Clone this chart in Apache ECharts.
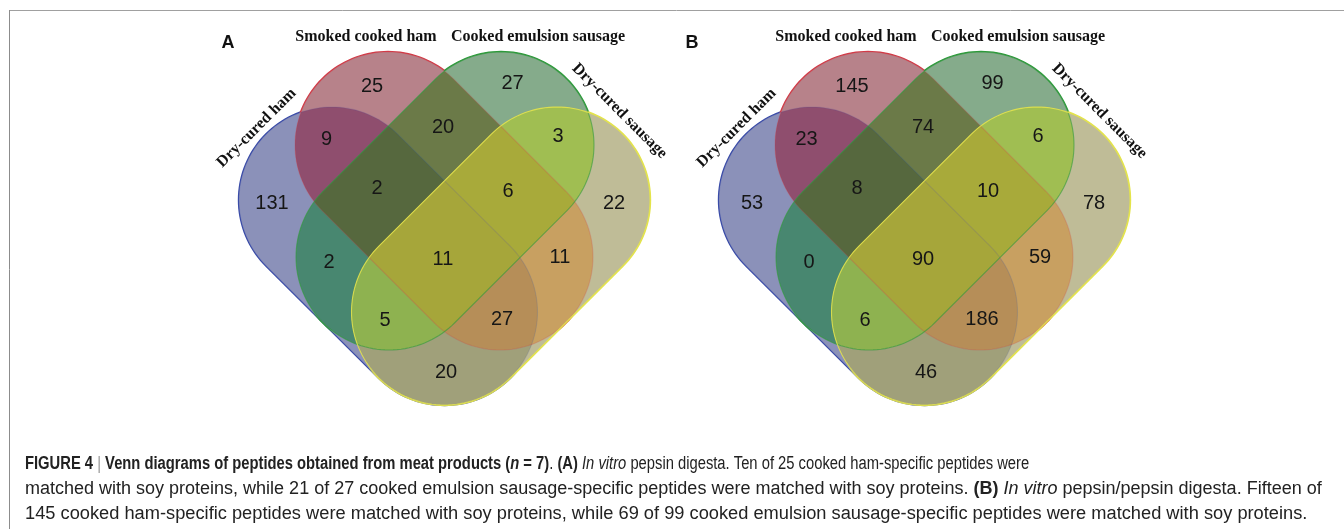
<!DOCTYPE html>
<html>
<head>
<meta charset="utf-8">
<script src="https://cdn.jsdelivr.net/npm/echarts@6/dist/echarts.min.js"></script>
<style>
  html, body { margin: 0; padding: 0; background: #fff; }
  #chart { width: 1344px; height: 529px; }
</style>
</head>
<body>
<div id="chart"></div>
<script>
// ---- Data -------------------------------------------------------------
// Sets; bit i of a region mask means "inside set i".
const setNames = ['Dry-cured ham', 'Smoked cooked ham', 'Cooked emulsion sausage', 'Dry-cured sausage'];
// Region masks, the order shared by the count arrays below.
const regionMasks = [1, 2, 4, 8, 3, 6, 12, 5, 10, 9, 7, 14, 13, 11, 15];
// Panel A: in vitro pepsin digesta
const countsA = [131, 25, 27, 22, 9, 20, 3, 2, 11, 20, 2, 6, 5, 27, 11];
// Panel B: in vitro pepsin/pepsin digesta
const countsB = [53, 145, 99, 78, 23, 74, 6, 0, 59, 46, 8, 10, 6, 186, 90];
const panelLetters = ['A', 'B'];

// ---- Layout (diagram units: x from the panel's centre line, y downwards) ----
const RADIUS = 93;
const capsuleAxes = [
  [[-112.5, 200], [0, 312]],     // Dry-cured ham
  [[-56.5, 145], [55.5, 257]],   // Smoked cooked ham
  [[56.5, 145], [-55.5, 257]],   // Cooked emulsion sausage
  [[112.5, 200], [0, 312]]       // Dry-cured sausage
];
const countPos = {
  1: [-172.5, 203], 2: [-72.5, 86], 4: [68, 83], 8: [169.5, 203],
  3: [-118, 139], 6: [-1.5, 127], 12: [113.5, 136], 5: [-115.5, 262],
  10: [115.5, 257], 9: [1.5, 372], 7: [-67.5, 188], 14: [63.5, 191],
  13: [-59.5, 320], 11: [57.5, 319], 15: [-1.5, 259]
};
const setLabelPos = [[-188, 128, Math.PI / 4], [-78.5, 37, 0], [93.5, 37, 0], [175, 111, -Math.PI / 4]];
const letterPos = [[-216.5, 43.5], [-232.5, 43.5]];
const panelCentres = [444.5, 924.5];

// ---- Style --------------------------------------------------------------
const setStroke = ['#3a4ca8', '#d23c48', '#2f9a3c', '#e4e44c'];
const setStrokeOverAlpha = [0.15, 0.22, 0.6, 0.85];
const regionFill = {
  1: '#8b91b9', 2: '#b7828a', 4: '#85ab8b', 8: '#bfbc97',
  3: '#8f4e6e', 6: '#6b7a48', 12: '#a0be52', 5: '#488770',
  10: '#c8a061', 9: '#a0a07a', 7: '#56683e', 14: '#a8aa3a',
  13: '#8eb250', 11: '#b68e58', 15: '#a6a63a'
};
const COUNT_FONT = '20px "Liberation Sans", Arial, sans-serif';
const SET_FONT = 'bold 16px "Liberation Serif", "Times New Roman", serif';

// ---- Geometry helpers ---------------------------------------------------
function capsulePolygon(axis, steps) {
  const [p1, p2] = axis;
  const th = Math.atan2(p2[1] - p1[1], p2[0] - p1[0]);
  const pts = [];
  for (let i = 0; i <= steps; i++) {
    const a = th - Math.PI / 2 + Math.PI * i / steps;
    pts.push([p2[0] + RADIUS * Math.cos(a), p2[1] + RADIUS * Math.sin(a)]);
  }
  for (let i = 0; i <= steps; i++) {
    const a = th + Math.PI / 2 + Math.PI * i / steps;
    pts.push([p1[0] + RADIUS * Math.cos(a), p1[1] + RADIUS * Math.sin(a)]);
  }
  return pts;
}
function signedArea(P) {
  let s = 0;
  for (let i = 0; i < P.length; i++) {
    const a = P[i], b = P[(i + 1) % P.length];
    s += a[0] * b[1] - b[0] * a[1];
  }
  return s;
}
// Sutherland–Hodgman: clip a polygon by a convex polygon
function clipConvex(subject, clipPoly) {
  const sgn = Math.sign(signedArea(clipPoly));
  let out = subject;
  for (let i = 0; i < clipPoly.length && out.length; i++) {
    const A = clipPoly[i], B = clipPoly[(i + 1) % clipPoly.length];
    const side = p => sgn * ((B[0] - A[0]) * (p[1] - A[1]) - (B[1] - A[1]) * (p[0] - A[0]));
    const inp = out; out = [];
    for (let j = 0; j < inp.length; j++) {
      const P = inp[j], Q = inp[(j + 1) % inp.length];
      const sp = side(P), sq = side(Q);
      if (sp >= 0) out.push(P);
      if ((sp >= 0) !== (sq >= 0)) {
        const t = sp / (sp - sq);
        out.push([P[0] + t * (Q[0] - P[0]), P[1] + t * (Q[1] - P[1])]);
      }
    }
  }
  return out;
}
const capsules = capsuleAxes.map(a => capsulePolygon(a, 72));
// Common part of every set in the mask (convex, as each capsule is convex)
function intersectionOf(mask) {
  let poly = null;
  for (let i = 0; i < 4; i++) {
    if (!(mask & (1 << i))) continue;
    poly = poly ? clipConvex(poly, capsules[i]) : capsules[i].slice();
  }
  return poly || [];
}
const bitCount = m => (m & 1) + ((m >> 1) & 1) + ((m >> 2) & 1) + ((m >> 3) & 1);
// Painting intersections from fewer to more sets leaves each point with the
// colour of exactly the sets that contain it.
const paintOrder = regionMasks.slice().sort((a, b) => bitCount(a) - bitCount(b));

// ---- Series -------------------------------------------------------------
function panelSeries(k, counts) {
  const outline = (under) => ({
    type: 'custom', xAxisIndex: k, yAxisIndex: k, z: under ? 1 : 3, silent: true,
    data: [[0, 0], [1, 0], [2, 0], [3, 0]],
    renderItem: (params, api) => {
      const i = api.value(0);
      return {
        type: 'polygon', z2: i,
        shape: { points: capsules[i].map(p => api.coord(p)) },
        style: {
          fill: 'none', stroke: setStroke[i],
          lineWidth: under ? 2.4 : 1.1,
          opacity: under ? 1 : setStrokeOverAlpha[i]
        }
      };
    }
  });
  return [
    outline(true),
    {
      type: 'custom', xAxisIndex: k, yAxisIndex: k, z: 2, silent: true,
      data: paintOrder.map(m => [m, 0]),
      renderItem: (params, api) => {
        const m = api.value(0);
        return {
          type: 'polygon', z2: params.dataIndex,
          shape: { points: intersectionOf(m).map(p => api.coord(p)) },
          style: { fill: regionFill[m] }
        };
      }
    },
    outline(false),
    {
      type: 'custom', xAxisIndex: k, yAxisIndex: k, z: 4, silent: true,
      data: regionMasks.map((m, i) => [countPos[m][0], countPos[m][1], counts[i]]),
      renderItem: (params, api) => {
        const pt = api.coord([api.value(0), api.value(1)]);
        return {
          type: 'text', x: pt[0], y: pt[1],
          style: { text: String(api.value(2)), font: COUNT_FONT, fill: '#161616', align: 'center', verticalAlign: 'middle' }
        };
      }
    },
    {
      type: 'custom', xAxisIndex: k, yAxisIndex: k, z: 4, silent: true,
      data: setNames.map((n, i) => [setLabelPos[i][0], setLabelPos[i][1], i]),
      renderItem: (params, api) => {
        const i = api.value(2);
        const pt = api.coord([api.value(0), api.value(1)]);
        return {
          type: 'text', x: pt[0], y: pt[1], rotation: setLabelPos[i][2],
          style: { text: setNames[i], font: SET_FONT, fill: '#111', align: 'center', verticalAlign: 'middle' }
        };
      }
    },
    {
      type: 'custom', xAxisIndex: k, yAxisIndex: k, z: 4, silent: true,
      data: [[letterPos[k][0], letterPos[k][1]]],
      renderItem: (params, api) => {
        const pt = api.coord([api.value(0), api.value(1)]);
        return {
          type: 'text', x: pt[0], y: pt[1],
          style: { text: panelLetters[k], font: 'bold 18px "Liberation Sans", Arial, sans-serif', fill: '#111', align: 'center', verticalAlign: 'middle' }
        };
      }
    }
  ];
}

const capFont = '"Liberation Sans", Arial, sans-serif';
const capRich = {
  b: { fontWeight: 'bold', fontSize: 18, fontFamily: capFont, fill: '#222' },
  i: { fontStyle: 'italic', fontSize: 18, fontFamily: capFont, fill: '#222' },
  bi: { fontStyle: 'italic', fontWeight: 'bold', fontSize: 18, fontFamily: capFont, fill: '#222' },
  g: { fontSize: 18, fontFamily: capFont, fill: '#999' }
};
const captionLines = [
  '{b|FIGURE 4} {g||} {b|Venn diagrams of peptides obtained from meat products (}{bi|n}{b| = 7)}. {b|(A)} {i|In vitro} pepsin digesta. Ten of 25 cooked ham-specific peptides were',
  'matched with soy proteins, while 21 of 27 cooked emulsion sausage-specific peptides were matched with soy proteins. {b|(B)} {i|In vitro} pepsin/pepsin digesta. Fifteen of',
  '145 cooked ham-specific peptides were matched with soy proteins, while 69 of 99 cooked emulsion sausage-specific peptides were matched with soy proteins.'
];
// Horizontal set width of each caption line
const captionScaleX = [0.82, 1, 1.014];

const chart = echarts.init(document.getElementById('chart'), null, { renderer: 'canvas' });
chart.setOption({
  animation: false,
  backgroundColor: '#fff',
  grid: panelCentres.map(c => ({ left: c - 250, top: 30, width: 500, height: 400 })),
  xAxis: [0, 1].map(k => ({ type: 'value', gridIndex: k, min: -250, max: 250, show: false })),
  yAxis: [0, 1].map(k => ({ type: 'value', gridIndex: k, min: 30, max: 430, inverse: true, show: false })),
  series: [...panelSeries(0, countsA), ...panelSeries(1, countsB)],
  graphic: [
    { type: 'line', silent: true, shape: { x1: 9, y1: 10.5, x2: 1344, y2: 10.5 }, style: { stroke: '#a0a0a0', lineWidth: 1 } },
    { type: 'line', silent: true, shape: { x1: 9.5, y1: 10, x2: 9.5, y2: 529 }, style: { stroke: '#8c8c8c', lineWidth: 1 } },
    ...captionLines.map((t, i) => ({
      type: 'text', silent: true, x: 25, y: 464 + i * 25, scaleX: captionScaleX[i],
      style: { text: t, font: '18px ' + capFont, fill: '#222', verticalAlign: 'middle', rich: capRich }
    }))
  ]
});
</script>
</body>
</html>
